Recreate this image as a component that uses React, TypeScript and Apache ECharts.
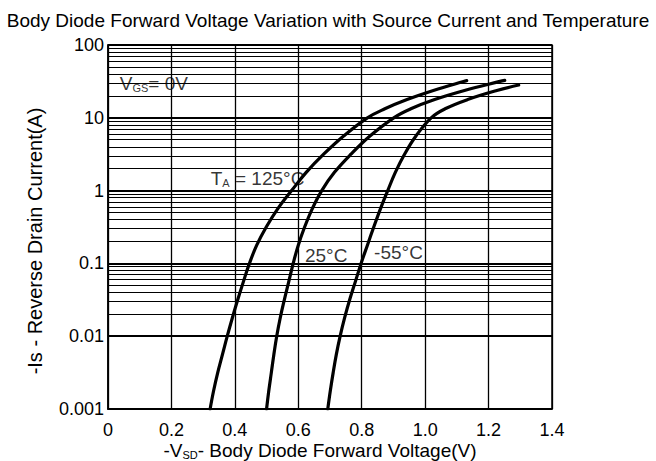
import React, { useEffect, useRef } from "react";
import * as echarts from "echarts";

const FONT = '"Liberation Sans", Arial, sans-serif';

// Reverse drain current (A) levels at which each curve's forward voltage is read
const iLevels = [
  0.001, 0.00178, 0.00316, 0.00562, 0.01, 0.0178, 0.0316, 0.0562, 0.1, 0.178, 0.316, 0.562,
  1, 1.78, 3.16, 5.62, 10, 13.3, 17.8, 23.7, 31.6,
];

// Forward voltage (V) at those current levels; each curve's last point is [V, A]
const v125 = [
  0.322, 0.333, 0.346, 0.361, 0.376, 0.392, 0.409, 0.427, 0.446, 0.469, 0.499, 0.535,
  0.579, 0.625, 0.68, 0.743, 0.818, 0.873, 0.943, 1.026, 1.121,
];
const end125 = [1.131, 32.4];

const v25 = [
  0.5, 0.507, 0.515, 0.523, 0.532, 0.543, 0.556, 0.57, 0.584, 0.6, 0.62, 0.644,
  0.674, 0.714, 0.766, 0.826, 0.901, 0.955, 1.03, 1.124, 1.236,
];
const end25 = [1.251, 32.7];

const vm55 = [
  0.693, 0.701, 0.71, 0.72, 0.732, 0.746, 0.762, 0.78, 0.798, 0.818, 0.838, 0.859,
  0.882, 0.906, 0.935, 0.971, 1.019, 1.063, 1.134, 1.226,
];
const endm55 = [1.295, 28.2];

// Axis tick labels
const xTickLabels = ["0", "0.2", "0.4", "0.6", "0.8", "1.0", "1.2", "1.4"];
const yTickLabels = ["0.001", "0.01", "0.1", "1", "10", "100"];

// Minor log grid: mantissas 2..9 within each decade
const decades = [0.001, 0.01, 0.1, 1, 10];
const mantissas = [2, 3, 4, 5, 6, 7, 8, 9];

const curveData = (vs: number[], end: number[]) => [...vs.map((v, k) => [v, iLevels[k]]), end];

const curve = (name: string, data: number[][]) => ({
  name,
  type: "line",
  data,
  smooth: 0.4,
  symbol: "none",
  z: 5,
  lineStyle: { color: "#000", width: 3.2, cap: "round" },
});

const rich = {
  m: { fontSize: 19, fontFamily: FONT, color: "#000" },
  s: { fontSize: 11, fontFamily: FONT, color: "#000", verticalAlign: "bottom", padding: [9, 0, 0, 0] },
};

export default function App() {
  const ref = useRef<HTMLDivElement>(null);

  useEffect(() => {
    document.body.style.margin = "0";
    const chart = echarts.init(ref.current!, null, { renderer: "svg" });

    const minorLines: { yAxis: number }[] = [];
    decades.forEach((d) => mantissas.forEach((m) => minorLines.push({ yAxis: m * d })));

    chart.setOption({
      animation: false,
      backgroundColor: "#fff",
      title: {
        text: "Body Diode Forward Voltage Variation with Source Current and Temperature",
        left: "center",
        top: 6,
        textStyle: { fontSize: 19, fontWeight: "normal", color: "#000", fontFamily: FONT },
      },
      grid: {
        left: 108,
        right: 104,
        top: 45,
        bottom: 52,
        show: true,
        borderColor: "#000",
        borderWidth: 1.5,
        outerBoundsMode: "none",
        containLabel: false,
      },
      xAxis: {
        type: "value",
        min: 0,
        max: 1.4,
        interval: 0.2,
        axisLine: { show: true, lineStyle: { color: "#000", width: 1.5 } },
        axisTick: { show: false },
        axisLabel: {
          color: "#000",
          fontSize: 18,
          fontFamily: FONT,
          margin: 12,
          formatter: (v: number) => xTickLabels[Math.round(v / 0.2)],
        },
        splitLine: { show: true, lineStyle: { color: "#000", width: 1.3 } },
        name: "-{m|V}{s|SD}{m|- Body Diode Forward Voltage(V)}",
        nameLocation: "middle",
        nameGap: 31,
        nameMoveOverlap: false,
        nameTextStyle: { fontSize: 19, fontFamily: FONT, color: "#000", rich, padding: [0, 20, 0, 0] },
      },
      yAxis: {
        type: "log",
        logBase: 10,
        min: 0.001,
        max: 100,
        axisLine: { show: true, lineStyle: { color: "#000", width: 1.5 } },
        axisTick: { show: false },
        axisLabel: {
          color: "#000",
          fontSize: 18,
          fontFamily: FONT,
          margin: 4,
          formatter: (v: number) => yTickLabels[Math.round(Math.log10(v)) + 3],
        },
        splitLine: { show: true, lineStyle: { color: "#000", width: 2.2 } },
        name: "-Is - Reverse Drain Current(A)",
        nameLocation: "middle",
        nameGap: 63,
        nameMoveOverlap: false,
        nameTextStyle: { fontSize: 20, fontFamily: FONT, color: "#000", padding: [0, 28, 0, 0] },
      },
      series: [
        {
          name: "minor grid",
          type: "line",
          data: [],
          silent: true,
          z: 1,
          markLine: {
            silent: true,
            symbol: "none",
            label: { show: false },
            lineStyle: { color: "#000", width: 1, type: "solid" },
            data: minorLines,
          },
        },
        curve("125°C", curveData(v125, end125)),
        curve("25°C", curveData(v25, end25)),
        curve("-55°C", curveData(vm55, endm55)),
        {
          name: "annotations",
          type: "scatter",
          symbolSize: 0,
          silent: true,
          z: 6,
          label: { show: true, position: "right", distance: 0, rich },
          data: [
            { value: [0.037, 29.8], label: { formatter: "{m|V}{s|GS}{m|= 0V}" } },
            { value: [0.324, 1.48], label: { formatter: "{m|T}{s|A}{m| = 125°C}" } },
            { value: [0.621, 0.13], label: { formatter: "{m|25°C}" } },
            { value: [0.839, 0.14], label: { formatter: "{m|-55°C}" } },
          ],
        },
      ],
    });

    return () => chart.dispose();
  }, []);

  return <div ref={ref} style={{ width: 656, height: 461, background: "#fff" }} />;
}
